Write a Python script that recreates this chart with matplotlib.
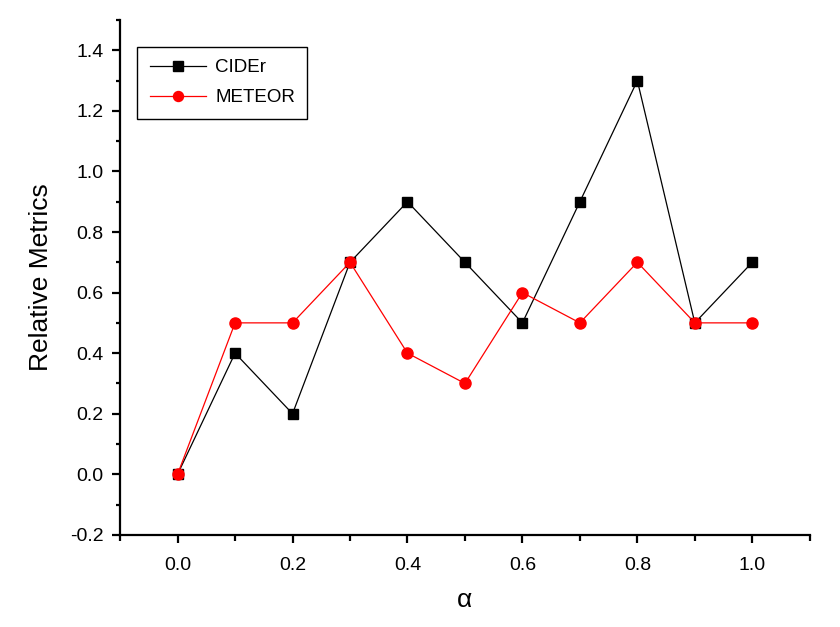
import matplotlib
matplotlib.use("Agg")
import matplotlib.pyplot as plt
from matplotlib.ticker import MultipleLocator

# 数据
alpha = [0.0, 0.1, 0.2, 0.3, 0.4, 0.5, 0.6, 0.7, 0.8, 0.9, 1.0]
cider = [0.0, 0.4, 0.2, 0.7, 0.9, 0.7, 0.5, 0.9, 1.3, 0.5, 0.7]
meteor = [0.0, 0.5, 0.5, 0.7, 0.4, 0.3, 0.6, 0.5, 0.7, 0.5, 0.5]

plt.rcParams["font.family"] = ["Liberation Sans", "DejaVu Sans"]

fig = plt.figure(figsize=(8.4, 6.27), dpi=100)
ax = fig.add_axes([0.143, 0.147, 0.821, 0.821])

ax.plot(alpha, cider, color="black", marker="s", markersize=7.5, linewidth=0.9, label="CIDEr")
ax.plot(alpha, meteor, color="red", marker="o", markersize=8, linewidth=0.9, label="METEOR")

ax.set_xlim(-0.1, 1.1)
ax.set_ylim(-0.2, 1.5)
ax.xaxis.set_major_locator(MultipleLocator(0.2))
ax.xaxis.set_minor_locator(MultipleLocator(0.1))
ax.yaxis.set_major_locator(MultipleLocator(0.2))
ax.yaxis.set_minor_locator(MultipleLocator(0.1))
ax.xaxis.set_major_formatter(plt.FuncFormatter(lambda v, p: f"{v:.1f}"))
ax.yaxis.set_major_formatter(plt.FuncFormatter(lambda v, p: f"{v:.1f}"))

# 只保留左边和下边的轴
ax.spines["top"].set_visible(False)
ax.spines["right"].set_visible(False)
ax.spines["left"].set_linewidth(1.6)
ax.spines["bottom"].set_linewidth(1.6)
ax.tick_params(axis="both", which="major", direction="out", length=6, width=1.6, labelsize=14)
ax.tick_params(axis="x", which="major", pad=10)
ax.tick_params(axis="y", which="major", pad=6)
ax.tick_params(axis="x", which="minor", direction="out", length=4, width=1.6)
ax.tick_params(axis="y", which="minor", direction="out", length=3, width=1.6)

ax.set_xlabel("α", fontsize=19, labelpad=10)
ax.set_ylabel("Relative Metrics", fontsize=19, labelpad=12)

leg = ax.legend(loc="upper left", bbox_to_anchor=(0.025, 0.948), borderaxespad=0,
                fontsize=13.5, fancybox=False, framealpha=1, edgecolor="black",
                handlelength=3.0, handletextpad=0.5, borderpad=0.65,
                labelspacing=0.7, markerscale=0.9)
leg.get_frame().set_linewidth(1)

fig.savefig("out.png", dpi=100)
